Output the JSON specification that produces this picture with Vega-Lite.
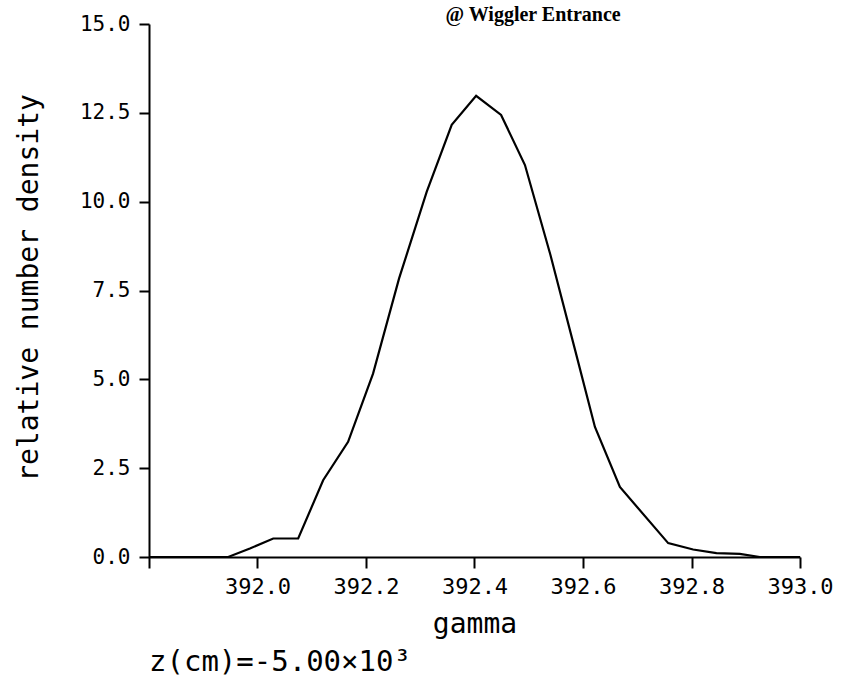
{
  "$schema": "https://vega.github.io/schema/vega-lite/v6.json",
  "width": 651,
  "height": 533,
  "autosize": {"type": "none"},
  "padding": {"left": 149, "top": 24, "right": 46, "bottom": 132},
  "background": "white",
  "config": {"view": {"stroke": null}},
  "title": {
    "text": "z(cm)=-5.00×10³",
    "orient": "bottom",
    "anchor": "start",
    "frame": "group",
    "font": "DejaVu Sans Mono",
    "fontSize": 29,
    "fontWeight": "normal",
    "color": "black",
    "offset": 10
  },
  "data": {
    "values": [
      {"gamma": 391.8, "density": 0},
      {"gamma": 391.946, "density": 0},
      {"gamma": 391.986, "density": 0.24},
      {"gamma": 392.029, "density": 0.52},
      {"gamma": 392.075, "density": 0.52},
      {"gamma": 392.121, "density": 2.16},
      {"gamma": 392.167, "density": 3.24},
      {"gamma": 392.213, "density": 5.16},
      {"gamma": 392.261, "density": 7.84},
      {"gamma": 392.312, "density": 10.28},
      {"gamma": 392.358, "density": 12.16},
      {"gamma": 392.403, "density": 12.98},
      {"gamma": 392.449, "density": 12.44},
      {"gamma": 392.493, "density": 11.03},
      {"gamma": 392.54, "density": 8.5},
      {"gamma": 392.585, "density": 5.85},
      {"gamma": 392.622, "density": 3.66},
      {"gamma": 392.668, "density": 1.97},
      {"gamma": 392.757, "density": 0.39},
      {"gamma": 392.803, "density": 0.21},
      {"gamma": 392.846, "density": 0.11},
      {"gamma": 392.889, "density": 0.09},
      {"gamma": 392.926, "density": 0},
      {"gamma": 393.0, "density": 0}
    ]
  },
  "layer": [
    {
      "mark": {"type": "line", "color": "black", "strokeWidth": 2.2},
      "encoding": {
        "x": {
          "field": "gamma",
          "type": "quantitative",
          "scale": {"domain": [391.8, 393.0], "nice": false, "zero": false},
          "axis": {
            "title": "gamma",
            "values": [391.8, 392.0, 392.2, 392.4, 392.6, 392.8, 393.0],
            "labelExpr": "datum.value < 391.9 ? '' : format(datum.value, '.1f')",
            "tickSize": 11,
            "labelPadding": 8,
            "labelFont": "DejaVu Sans Mono",
            "labelFontSize": 22,
            "labelColor": "black",
            "labelFlush": false,
            "labelOverlap": false,
            "titleFont": "DejaVu Sans Mono",
            "titleFontSize": 28,
            "titleFontWeight": "normal",
            "titleColor": "black",
            "titleBaseline": "alphabetic",
            "titleY": 75,
            "domainColor": "black",
            "domainWidth": 2,
            "tickColor": "black",
            "tickWidth": 2,
            "grid": false
          }
        },
        "y": {
          "field": "density",
          "type": "quantitative",
          "scale": {"domain": [0, 15], "nice": false},
          "axis": {
            "title": "relative number density",
            "values": [0, 2.5, 5, 7.5, 10, 12.5, 15],
            "format": ".1f",
            "tickSize": 10,
            "labelPadding": 9,
            "labelFont": "DejaVu Sans Mono",
            "labelFontSize": 21,
            "labelColor": "black",
            "labelFlush": false,
            "labelOverlap": false,
            "titleFont": "DejaVu Sans Mono",
            "titleFontSize": 28,
            "titleFontWeight": "normal",
            "titleColor": "black",
            "titleBaseline": "alphabetic",
            "titleX": -112,
            "titleY": 263.5,
            "domainColor": "black",
            "domainWidth": 2,
            "tickColor": "black",
            "tickWidth": 2,
            "grid": false
          }
        }
      }
    },
    {
      "data": {"values": [{"label": "@ Wiggler Entrance"}]},
      "mark": {
        "type": "text",
        "font": "Liberation Serif",
        "fontWeight": "bold",
        "fontSize": 20,
        "baseline": "alphabetic",
        "align": "center",
        "color": "black"
      },
      "encoding": {
        "text": {"field": "label"},
        "x": {"datum": 392.508},
        "y": {"datum": 15.09}
      }
    }
  ]
}
